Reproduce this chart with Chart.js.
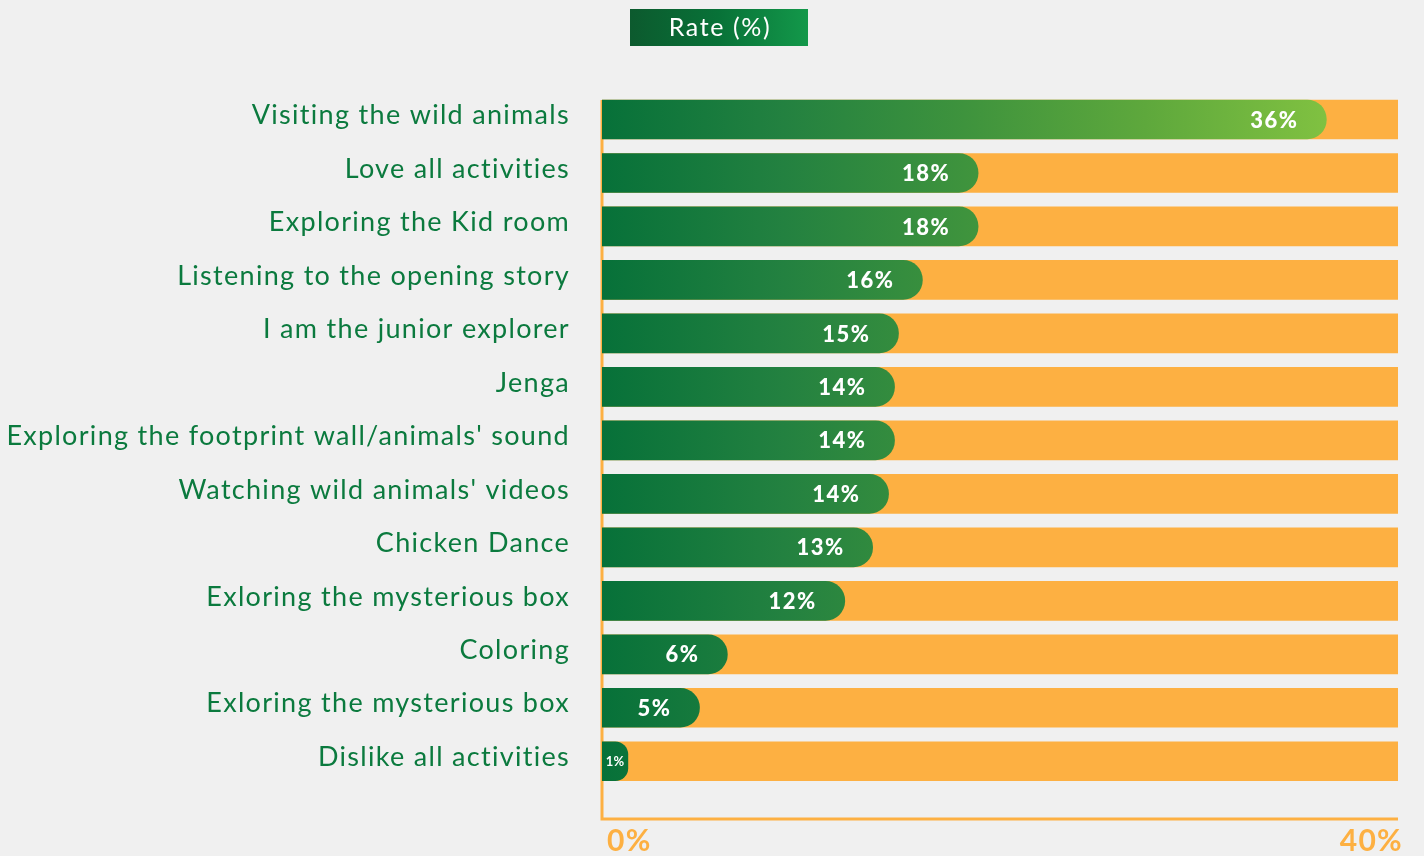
<!DOCTYPE html>
<html>
<head>
<meta charset="utf-8">
<script src="https://cdn.jsdelivr.net/npm/chart.js@4.4.1/dist/chart.umd.min.js"></script>
<style>
  html,body{margin:0;padding:0;background:#f0f0f0;}
  #wrap{width:1424px;height:856px;position:relative;}
</style>
</head>
<body>
<div id="wrap"><canvas id="c" width="1424" height="856"></canvas></div>
<script>
const categories = [
  "Visiting the wild animals",
  "Love all activities",
  "Exploring the Kid room",
  "Listening to the opening story",
  "I am the junior explorer",
  "Jenga",
  "Exploring the footprint wall/animals' sound",
  "Watching wild animals' videos",
  "Chicken Dance",
  "Exloring the mysterious box",
  "Coloring",
  "Exloring the mysterious box",
  "Dislike all activities"
];
const rateValues = [36.4, 18.9, 18.9, 16.1, 14.9, 14.7, 14.7, 14.4, 13.6, 12.2, 6.3, 4.9, 1.3];
const rateLabels = ["36%", "18%", "18%", "16%", "15%", "14%", "14%", "14%", "13%", "12%", "6%", "5%", "1%"];
const trackMax = 40;
const trackValues = categories.map(() => trackMax);
const xTicks = [0, 40];

const GREEN_TEXT = '#0b7a3e';
const ORANGE = '#fdb042';

function greenGradient(ctx, chart) {
  const area = chart.chartArea;
  if (!area) return '#077139';
  const xs = chart.scales.x;
  const x0 = xs.getPixelForValue(0);
  const x1 = xs.getPixelForValue(Math.max(...rateValues));
  const g = ctx.createLinearGradient(x0, 0, x1, 0);
  g.addColorStop(0, '#077139');
  g.addColorStop(0.25, '#238140');
  g.addColorStop(0.5, '#3e933d');
  g.addColorStop(0.75, '#5ea83c');
  g.addColorStop(1, '#80c141');
  return g;
}

const decorPlugin = {
  id: 'decor',
  beforeDraw(chart) {
    chart.ctx.letterSpacing = '1.3px';
  },
  beforeDatasetsDraw(chart) {
    const {ctx} = chart;
    const xs = chart.scales.x;
    const ys = chart.scales.y;
    const left = xs.getPixelForValue(0);
    const right = xs.getPixelForValue(trackMax);
    const firstTop = ys.getPixelForValue(0) - 19.5;
    const bottomY = 819;
    ctx.save();
    ctx.strokeStyle = ORANGE;
    ctx.lineWidth = 3;
    ctx.beginPath();
    ctx.moveTo(left, firstTop);
    ctx.lineTo(left, bottomY);
    ctx.lineTo(right, bottomY);
    ctx.stroke();
    ctx.restore();
  },
  afterDatasetsDraw(chart) {
    const {ctx} = chart;
    const meta = chart.getDatasetMeta(1);
    ctx.save();
    ctx.fillStyle = '#ffffff';
    ctx.textBaseline = 'middle';
    meta.data.forEach((bar, i) => {
      const w = bar.x - bar.base;
      if (w < 60) {
        ctx.letterSpacing = '0px';
        ctx.font = 'bold 13px Lato';
        ctx.textAlign = 'center';
        ctx.fillText(rateLabels[i], (bar.x + bar.base) / 2, bar.y + 1);
      } else {
        ctx.letterSpacing = '1.5px';
        ctx.font = '900 22px Lato';
        ctx.textAlign = 'right';
        ctx.fillText(rateLabels[i], bar.x - 28, bar.y + 1);
      }
    });
    ctx.restore();
  },
  afterDraw(chart) {
    const {ctx} = chart;
    const bx = 630, by = 9, bw = 178, bh = 37;
    ctx.save();
    const g = ctx.createLinearGradient(bx, 0, bx + bw, 0);
    g.addColorStop(0, '#0c5a2e');
    g.addColorStop(0.5, '#087238');
    g.addColorStop(1, '#13984a');
    ctx.fillStyle = g;
    ctx.fillRect(bx, by, bw, bh);
    ctx.fillStyle = '#ffffff';
    ctx.letterSpacing = '1.6px';
    ctx.font = '25px Lato';
    ctx.textAlign = 'center';
    ctx.textBaseline = 'middle';
    ctx.fillText(chart.data.datasets[1].label, bx + bw / 2 + 1, by + bh / 2);
    ctx.restore();
  }
};

new Chart(document.getElementById('c'), {
  type: 'bar',
  data: {
    labels: categories,
    datasets: [
      {
        label: 'Track',
        data: trackValues,
        backgroundColor: ORANGE,
        borderWidth: 0,
        borderRadius: 0,
        barThickness: 39,
        grouped: false,
        order: 2
      },
      {
        label: 'Rate (%)',
        data: rateValues,
        backgroundColor: (c) => greenGradient(c.chart.ctx, c.chart),
        borderWidth: 0,
        borderRadius: 20,
        borderSkipped: 'start',
        barThickness: 39,
        grouped: false,
        order: 1
      }
    ]
  },
  options: {
    indexAxis: 'y',
    responsive: false,
    animation: false,
    devicePixelRatio: 1,
    layout: { padding: { top: 92.75, right: 26, left: 0, bottom: 0 } },
    plugins: {
      legend: { display: false },
      tooltip: { enabled: false }
    },
    scales: {
      x: {
        min: 0,
        max: trackMax,
        afterFit: (s) => { s.height = 856 - 788; s.paddingLeft = 0; s.paddingRight = 0; },
        afterBuildTicks: (s) => { s.ticks = xTicks.map(v => ({ value: v })); },
        grid: { display: false, drawTicks: false },
        border: { display: false },
        ticks: {
          align: 'inner',
          padding: 35,
          labelOffset: 5,
          color: ORANGE,
          font: { family: 'Lato', size: 30, weight: 'bold' },
          callback: (v) => v + '%'
        }
      },
      y: {
        afterFit: (s) => { s.width = 602; },
        grid: { display: false, drawTicks: false },
        border: { display: false },
        ticks: {
          padding: 32,
          labelOffset: -4,
          color: GREEN_TEXT,
          font: { family: 'Lato', size: 27 }
        }
      }
    }
  },
  plugins: [decorPlugin]
});
</script>
</body>
</html>
